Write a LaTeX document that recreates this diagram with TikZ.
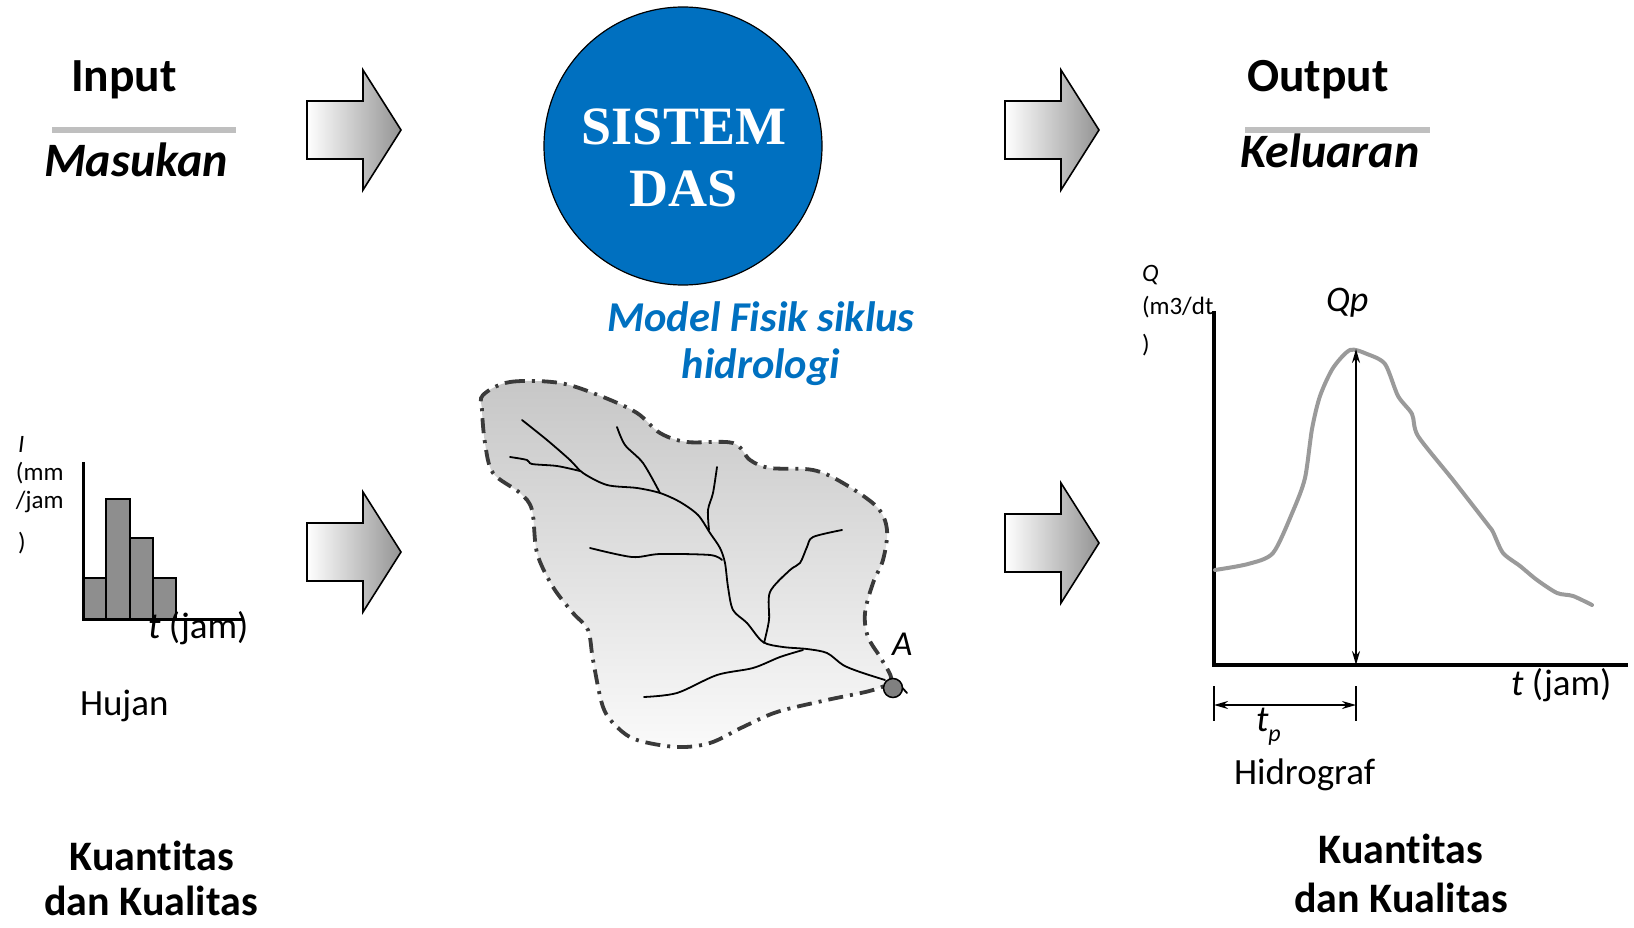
\documentclass[tikz,border=0pt]{standalone}
\usepackage{fontspec}
\setmainfont{Carlito}[Ligatures={NoCommon}]
\newfontfamily\timesfont{Liberation Serif}
\usetikzlibrary{arrows.meta}
\definecolor{dasblue}{HTML}{0070C0}
\definecolor{rulegray}{HTML}{BFBFBF}
\definecolor{bargray}{HTML}{8E8E8E}
\definecolor{edgegray}{HTML}{3A3A3A}
\definecolor{curvegray}{HTML}{9A9A9A}
\newcommand\setfs[1]{\fontsize{#1}{#1}\selectfont}

\tikzset{
  flowarrow/.pic={
    \draw[line width=1.6pt, line join=miter, left color=white, right color=black!42]
      (0,-29) -- (56,-29) -- (56,-60) -- (94,0) -- (56,60) -- (56,29) -- (0,29) -- cycle;
  },
  heading/.style={font=\setfs{47.5}\bfseries, anchor=base},
  subhead/.style={font=\setfs{48}\bfseries\itshape, anchor=base},
  summary/.style={font=\setfs{42}\bfseries, anchor=base},
  caption/.style={font=\setfs{37}, anchor=base west},
  axislabel/.style={font=\setfs{37}, anchor=base west},
  unitlabel/.style={font=\setfs{25}, anchor=base west},
  modeltext/.style={font=\setfs{42.5}\bfseries\itshape, text=dasblue, anchor=base},
  titlerule/.style={rulegray, line width=6pt},
  axisline/.style={line width=3pt, line cap=rect},
  bar/.style={draw, line width=2pt, fill=bargray},
  river/.style={line width=1.8pt, line cap=round, line join=round},
  dim/.style={line width=1.8pt}
}

\begin{document}
\begin{tikzpicture}[x=1pt, y=-1pt, every node/.style={inner sep=0pt, outer sep=0pt}]
\useasboundingbox (0,0) rectangle (1634,928);

% ---------- headings ----------
\node[heading] (inp) at (124,92) {Input};
\draw[titlerule] (52,130) -- (236,130);
\node[subhead] (masukan) at (136,177) {Masukan};

\node[heading] (outp) at (1318,92) {Output};
\draw[titlerule] (1245,130) -- (1430,130);
\node[subhead] (keluaran) at (1330,168) {Keluaran};

% ---------- flow arrows ----------
\pic (arrInTop) at (307,130) {flowarrow};
\pic (arrOutTop) at (1005,130) {flowarrow};
\pic (arrInBot) at (307,552) {flowarrow};
\pic (arrOutBot) at (1005,543) {flowarrow};

% ---------- system ----------
\node[circle, draw, line width=1.2pt, fill=dasblue, minimum size=278pt] (sys) at (683,146) {};
\node[font=\timesfont\setfs{54}\bfseries, text=white, anchor=base] (sysA) at (684,145) {SISTEM};
\node[font=\timesfont\setfs{54}\bfseries, text=white, anchor=base] (sysB) at (684,207) {DAS};

\node[modeltext] (model1) at (761,331) {Model Fisik siklus};
\node[modeltext] (model2) at (761,378) {hidrologi};

% ---------- rainfall histogram ----------
\node[unitlabel, font=\setfs{25}\itshape] (iI) at (18,452) {I};
\node[unitlabel] (iU1) at (16,480) {(mm};
\node[unitlabel] (iU2) at (16,508) {/jam};
\node[unitlabel] (iU3) at (18,550) {)};

\draw[bar] (83,578) rectangle (106,619);
\draw[bar] (106,499) rectangle (130,619);
\draw[bar] (130,538) rectangle (153,619);
\draw[bar] (153,578) rectangle (176,619);
\draw[axisline] (83,463) -- (83,619) -- (242,619);
\node[axislabel] (tjam1) at (148,638) {{\itshape t} (jam)};
\node[caption] (hujan) at (80,715) {Hujan};

% ---------- catchment ----------
\path[top color=black!22, bottom color=black!2]
  plot[smooth cycle, tension=0.55] coordinates {
  (483,395) (510,382) (560,383) (603,397) (637,413) (660,433) (687,442)
  (733,443) (750,460) (770,468) (813,470) (843,483) (877,507) (887,530)
  (883,560) (873,583) (865,613) (868,637) (882,660) (891,680)
  (873,690) (827,700) (777,712) (743,727) (710,743) (677,747) (637,740)
  (617,727) (603,707) (593,660) (588,630) (573,613) (553,587) (537,553)
  (532,510) (520,493) (493,473) (485,443) (482,410)};
\draw[edgegray, line width=3.8pt, dash pattern=on 15pt off 7pt on 3pt off 7pt]
  plot[smooth cycle, tension=0.55] coordinates {
  (483,395) (510,382) (560,383) (603,397) (637,413) (660,433) (687,442)
  (733,443) (750,460) (770,468) (813,470) (843,483) (877,507) (887,530)
  (883,560) (873,583) (865,613) (868,637) (882,660) (891,680)
  (873,690) (827,700) (777,712) (743,727) (710,743) (677,747) (637,740)
  (617,727) (603,707) (593,660) (588,630) (573,613) (553,587) (537,553)
  (532,510) (520,493) (493,473) (485,443) (482,410)};

% main stream and tributaries
\draw[river] plot[smooth, tension=0.5] coordinates {
  (522,420) (547,440) (570,460) (583,473) (607,485) (637,488) (660,493)
  (680,502) (698,515) (710,533) (720,548) (725,563) (728,587) (733,610)
  (747,623) (763,642) (783,647) (807,649) (827,653) (843,665) (860,672) (885,680)};
\draw[river] plot[smooth, tension=0.5] coordinates {(510,457) (527,460) (532,464) (557,466) (580,471)};
\draw[river] plot[smooth, tension=0.5] coordinates {(617,427) (625,445) (643,463) (660,493)};
\draw[river] plot[smooth, tension=0.5] coordinates {(717,467) (713,493) (708,510) (709,530)};
\draw[river] plot[smooth, tension=0.5] coordinates {(590,548) (632,557) (660,554) (710,555) (722,560)};
\draw[river] plot[smooth, tension=0.5] coordinates {
  (842,530) (813,537) (807,547) (800,563) (790,570) (770,592) (769,620) (764,643)};
\draw[river] plot[smooth, tension=0.5] coordinates {
  (644,697) (677,693) (717,675) (753,668) (780,657) (803,650)};

\node[circle, draw, line width=1.5pt, fill=black!50, minimum size=19pt] (outlet) at (893,688) {};
\coordinate (outletEnd) at (907,693);
\draw[river] (outlet.east) -- (outletEnd);
\node[axislabel, font=\setfs{35}\itshape] (labA) at (892,655) {A};

% ---------- hydrograph ----------
\node[unitlabel, font=\setfs{25}\itshape] (qQ) at (1142,282) {Q};
\node[unitlabel] (qU1) at (1142,314) {(m3/dt};
\node[unitlabel] (qU2) at (1142,352) {)};

\coordinate (origin) at (1214,665);
\coordinate (ytop) at (1214,311);
\coordinate (xend) at (1628,665);
\draw[line width=3.5pt] (ytop) -- (origin) -- (xend);

\draw[curvegray, line width=4pt, line cap=round, line join=round]
  plot[smooth, tension=0.45] coordinates {
  (1215,570) (1248,564) (1273,553) (1293,511) (1305,478) (1312,429)
  (1320,396) (1333,368) (1350,350) (1367,354) (1385,364) (1398,396)
  (1412,414) (1418,436) (1453,480) (1488,525) (1493,532) (1503,553) (1520,566)
  (1537,580) (1557,593) (1573,596) (1592,605)};

\coordinate (peak) at (1356,349);
\coordinate (peakBase) at (1356,665);
\draw[dim, {Stealth[length=14pt,width=8pt]}-{Stealth[length=14pt,width=8pt]}] (peak) -- (peakBase);
\node[font=\setfs{36}\itshape, anchor=base west] (qp) at (1326,312) {Qp};

\coordinate (tpL) at (1214,705);
\coordinate (tpR) at (1356,705);
\draw[dim] (1214,686) -- (1214,721);
\draw[dim] (1356,686) -- (1356,721);
\draw[dim, {Stealth[length=14pt,width=8pt]}-{Stealth[length=14pt,width=8pt]}] (tpL) -- (tpR);
\node[axislabel] (tp) at (1256,731) {{\itshape t}\raisebox{-10pt}{\setfs{24}\itshape p}};

\node[axislabel] (tjam2) at (1511,695) {{\itshape t} (jam)};
\node[caption] (hidrograf) at (1234,784) {Hidrograf};

% ---------- summary labels ----------
\node[summary] (sumL1) at (152,870) {Kuantitas};
\node[summary] (sumL2) at (151,915) {dan Kualitas};
\node[summary] (sumR1) at (1401,863) {Kuantitas};
\node[summary] (sumR2) at (1401,912) {dan Kualitas};
\end{tikzpicture}
\end{document}
